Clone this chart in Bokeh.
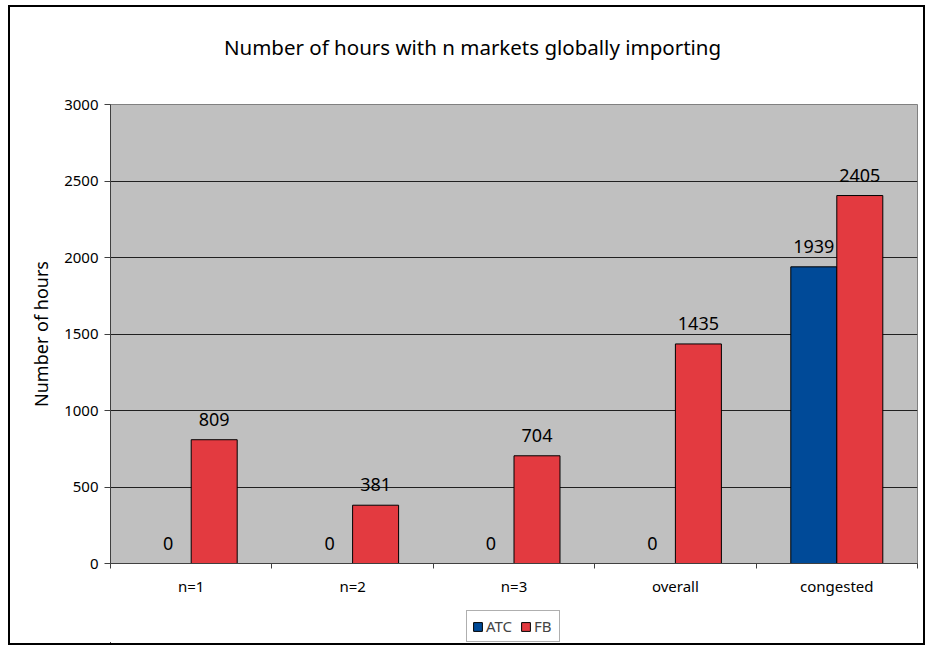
from bokeh.plotting import figure
from bokeh.models import (ColumnDataSource, FixedTicker, Range1d, LabelSet, Legend, LegendItem, Label)
from bokeh.layouts import column
from bokeh.core.properties import value
from bokeh.transform import dodge
from bokeh.embed import file_html
from bokeh.resources import INLINE

title_text = "Number of hours with n markets globally importing"
categories = ["n=1", "n=2", "n=3", "overall", "congested"]
atc = [0, 0, 0, 0, 1939]
fb = [809, 381, 704, 1435, 2405]
y_ticks = [0, 500, 1000, 1500, 2000, 2500, 3000]
series = ["ATC", "FB"]
colors = ["#004A98", "#E33A40"]

FONT = "Noto Sans"
n = len(categories)
centers = [i + 0.5 for i in range(n)]
src = ColumnDataSource(dict(x=centers, cat=categories, atc=atc, fb=fb,
                            atc_lbl=[str(v) for v in atc], fb_lbl=[str(v) for v in fb]))

W = 913
BL, BR = 100, 6
FW = W - BL - BR

def strip(h):
    s = figure(width=W, height=h, output_backend="svg", toolbar_location=None,
               x_range=Range1d(0, FW), y_range=Range1d(0, h),
               min_border_left=0, min_border_right=0, min_border_top=0, min_border_bottom=0)
    s.axis.visible = False
    s.grid.visible = False
    s.outline_line_color = None
    s.background_fill_color = "white"
    s.border_fill_color = "white"
    return s

# title strip
t = strip(85)
t.add_layout(Label(x=362, y=46, text=title_text, text_align="center", text_baseline="middle",
                   text_font=FONT, text_font_size="20.5px", text_color="black"))

p = figure(width=W, height=511, output_backend="svg", toolbar_location=None,
           x_range=Range1d(0, n), y_range=Range1d(0, 3000),
           min_border_left=BL, min_border_right=BR, min_border_top=12, min_border_bottom=40)

p.background_fill_color = "#C0C0C0"
p.border_fill_color = "white"
p.outline_line_color = "#808080"
p.outline_line_width = 1

p.vbar(x=dodge("x", -0.1425, range=p.x_range), top="atc", width=0.285, source=src,
       fill_color=colors[0], line_color="black", line_width=1)
p.vbar(x=dodge("x", 0.1425, range=p.x_range), top="fb", width=0.285, source=src,
       fill_color=colors[1], line_color="black", line_width=1)

for col, lbl, off in (("atc", "atc_lbl", -0.1425), ("fb", "fb_lbl", 0.1425)):
    ls = LabelSet(x=dodge("x", off, range=p.x_range), y=col, text=lbl, source=src,
                  text_align="center", text_baseline="bottom", y_offset=14,
                  text_font=value(FONT), text_font_size=value("18px"), text_color="black")
    p.add_layout(ls)

# x axis
p.xaxis.ticker = FixedTicker(ticks=centers, minor_ticks=list(range(n + 1)))
p.xaxis.major_label_overrides = {c: lab for c, lab in zip(centers, categories)}
p.xaxis.major_tick_out = 0
p.xaxis.major_tick_in = 0
p.xaxis.minor_tick_out = 5
p.xaxis.minor_tick_in = 0
p.xaxis.minor_tick_line_color = "#404040"
p.xaxis.axis_line_color = "#404040"
p.xaxis.major_label_text_font = FONT
p.xaxis.major_label_text_font_size = "15px"
p.xaxis.major_label_text_color = "black"
p.xaxis.major_label_standoff = 7
p.xgrid.visible = False

# y axis
p.yaxis.ticker = FixedTicker(ticks=y_ticks, minor_ticks=[])
p.yaxis.axis_label = "Number of hours"
p.yaxis.axis_label_text_font = FONT
p.yaxis.axis_label_text_font_size = "18px"
p.yaxis.axis_label_text_font_style = "normal"
p.yaxis.axis_label_text_color = "black"
p.yaxis.axis_label_standoff = 8
p.yaxis.major_label_text_font = FONT
p.yaxis.major_label_text_font_size = "15px"
p.yaxis.major_label_text_color = "black"
p.yaxis.major_label_standoff = 6
p.yaxis.major_tick_out = 6
p.yaxis.major_tick_in = 0
p.yaxis.major_tick_line_color = "#404040"
p.yaxis.axis_line_color = "#404040"
p.ygrid.grid_line_color = "#202020"
p.ygrid.grid_line_width = 1

# legend strip below the chart
q = strip(40)
items = []
for name, c in zip(series, colors):
    r = q.vbar(x=[-50], top=[1], width=1, fill_color=c, line_color="black", line_width=1)
    items.append(LegendItem(label=name, renderers=[r]))
legend = Legend(items=items, orientation="horizontal", location=(356, 1),
                label_text_font=FONT, label_text_font_size="15px",
                glyph_width=11, glyph_height=11, spacing=8, padding=5, label_standoff=3,
                border_line_color="#606060", border_line_width=1, margin=0,
                background_fill_color="white")
q.add_layout(legend)

layout = column(t, p, q, spacing=0)
layout.styles = {"border": "2px solid black", "margin-left": "8px", "margin-top": "5px"}

open("out.html", "w").write(file_html(layout, INLINE))
